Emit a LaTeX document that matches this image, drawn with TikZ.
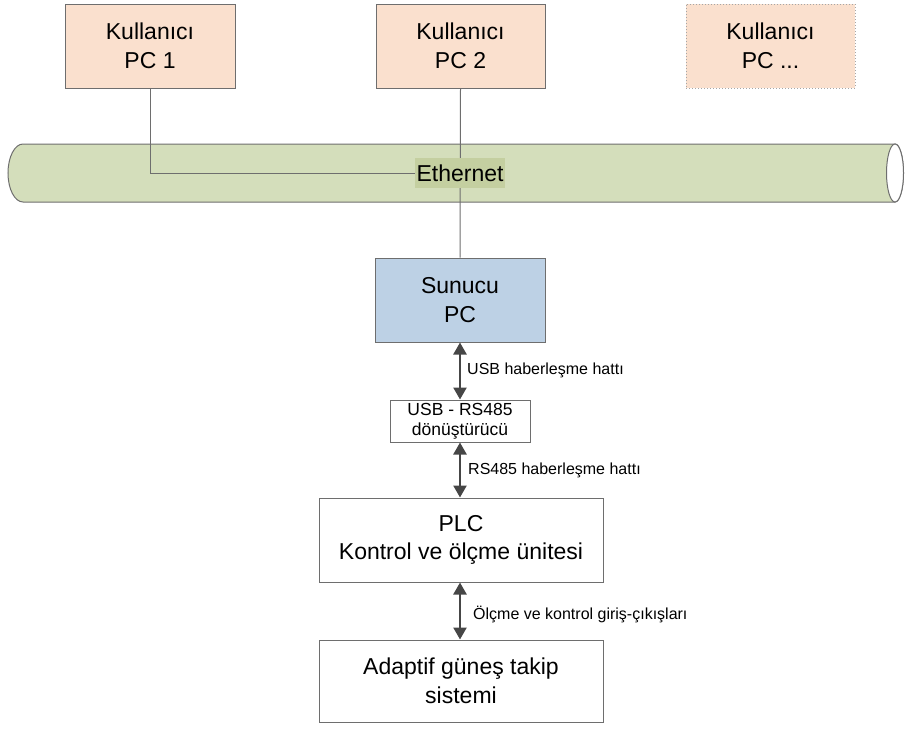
\documentclass[tikz,border=0pt]{standalone}
\usepackage{fontspec}
\setmainfont{Liberation Sans}
\usetikzlibrary{arrows.meta}
\definecolor{userfill}{RGB}{250,224,206}
\definecolor{serverfill}{RGB}{189,209,229}
\definecolor{pipefill}{RGB}{212,222,187}
\definecolor{labelfill}{RGB}{196,207,160}
\definecolor{edgegray}{RGB}{110,110,110}
\definecolor{arrowgray}{RGB}{70,70,70}
\tikzset{
  block/.style={draw=edgegray, line width=1pt, align=center, inner sep=0pt,
    font=\fontsize{23}{28.5}\selectfont},
  smallblock/.style={draw=edgegray, line width=1pt, align=center, inner sep=0pt,
    font=\fontsize{17.5}{20.5}\selectfont},
  wire/.style={draw=edgegray, line width=1pt},
  link/.style={draw=arrowgray, line width=2.4pt,
    {Triangle[width=13pt,length=12pt]}-{Triangle[width=13pt,length=12pt]}},
  linklabel/.style={anchor=west, inner sep=0pt, font=\fontsize{16}{19}\selectfont}
}
\begin{document}
\begin{tikzpicture}[x=1pt,y=-1pt]
\useasboundingbox (0,0) rectangle (905,755);

% Ethernet pipe (y axis points down, so the arc angles are mirrored)
\path[fill=pipefill, draw=edgegray, line width=1pt]
  (23,144) -- (895,144) arc[start angle=-90, end angle=90, x radius=8.5, y radius=29]
  -- (23,202) arc[start angle=90, end angle=270, x radius=15, y radius=29] -- cycle;
\path[fill=white, draw=edgegray, line width=1pt]
  (895,173) ellipse[x radius=8.5, y radius=29];

% user computers
\node[block, fill=userfill, minimum width=170pt, minimum height=84pt] (pc1) at (150,46) {Kullanıcı\\PC 1};
\node[block, fill=userfill, minimum width=169pt, minimum height=84pt] (pc2) at (460.5,46) {Kullanıcı\\PC 2};
\node[block, fill=userfill, draw=gray!70, dotted, minimum width=169pt, minimum height=84pt] (pcn) at (770.5,46) {Kullanıcı\\PC ...};

% server and field devices
\node[block, fill=serverfill, minimum width=170pt, minimum height=84pt] (srv) at (460,300) {Sunucu\\PC};
\node[smallblock, fill=white, minimum width=140pt, minimum height=42pt] (conv) at (460,421) {USB - RS485\\dönüştürücü};
\node[block, fill=white, minimum width=284pt, minimum height=84pt] (plc) at (461,540) {PLC\\Kontrol ve ölçme ünitesi};
\node[block, fill=white, minimum width=284pt, minimum height=82pt] (sys) at (461,681) {Adaptif güneş takip\\sistemi};

% network connections
\coordinate (bend) at (pc1.south |- 0,173);
\node[inner sep=0pt, minimum width=90pt, minimum height=30pt] (eth) at (460,173) {};
\draw[wire] (pc1.south) -- (bend) -- (eth.west);
\draw[wire] (pc2.south) -- (srv.north);
\node[fill=labelfill, inner sep=0pt, minimum width=90pt, minimum height=30pt,
  font=\fontsize{23}{28}\selectfont] at (eth) {Ethernet};

% communication links
\draw[link] (srv.south) -- (srv.south |- conv.north);
\node[linklabel] (l1) at (467,370) {USB haberleşme hattı};
\draw[link] (conv.south -| srv.south) -- (srv.south |- plc.north);
\node[linklabel] (l2) at (468,470) {RS485 haberleşme hattı};
\draw[link] (plc.south -| srv.south) -- (srv.south |- sys.north);
\node[linklabel] (l3) at (473,614) {Ölçme ve kontrol giriş-çıkışları};
\end{tikzpicture}
\end{document}
